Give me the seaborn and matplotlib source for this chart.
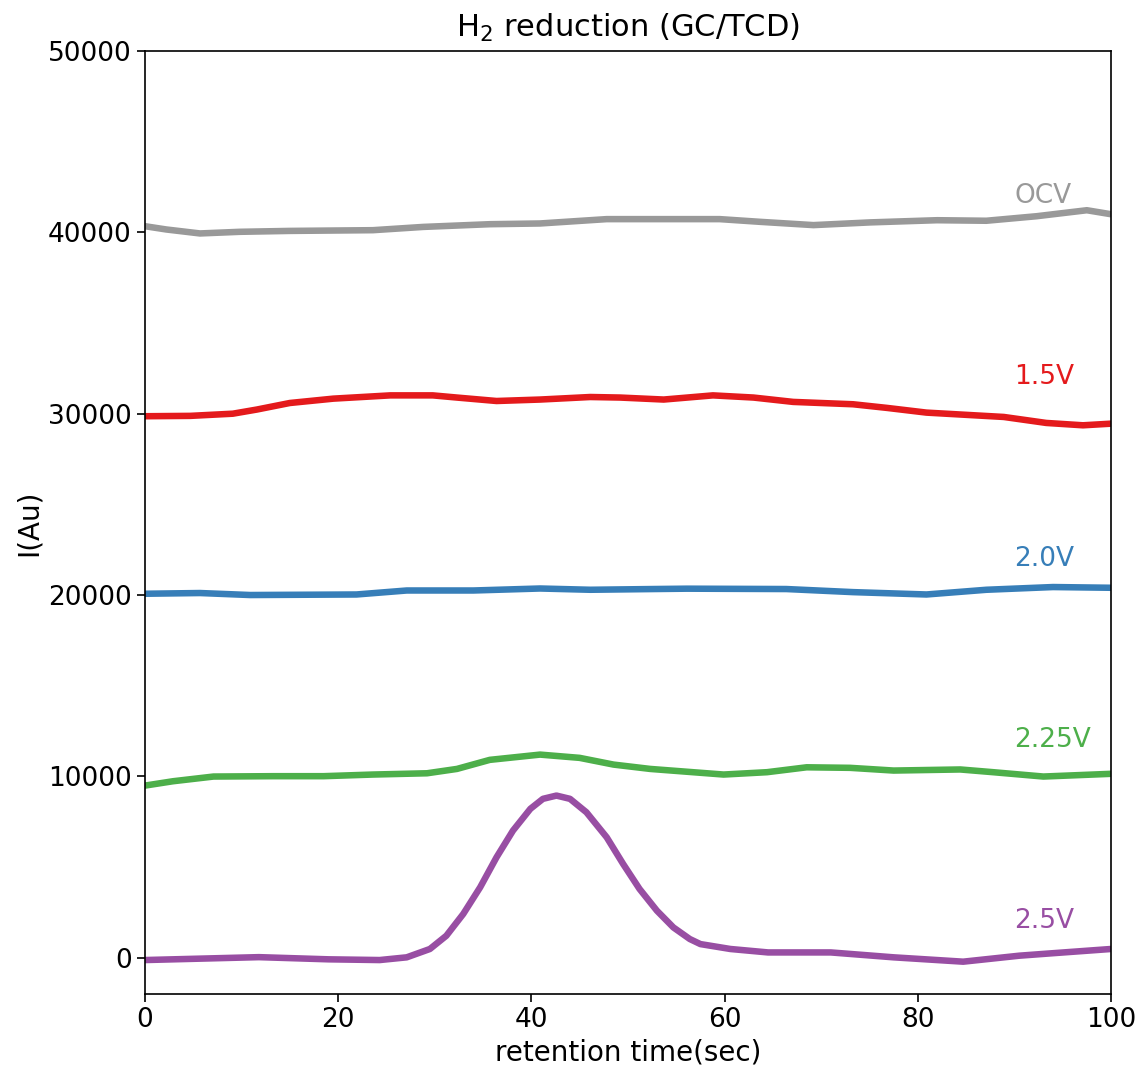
import matplotlib
matplotlib.use("Agg")
import matplotlib.pyplot as plt
import seaborn as sns
import pandas as pd

sns.set_style("ticks")
plt.rcParams['font.family'] = ['DejaVu Sans']
plt.rcParams.update({
    "text.color": "black",
    "axes.labelcolor": "black",
    "xtick.color": "black",
    "ytick.color": "black",
    "axes.edgecolor": "black",
})

# Retention time (sec) and detector signal for each applied condition
t_ocv = [0, 2.2, 5.7, 9.8, 15.0, 23.6, 28.8, 35.7, 40.9, 47.8, 52.6, 59.5, 63.7, 69.2, 75.1,
         82.0, 87.1, 92.3, 97.5, 100]
i_ocv = [40340, 40160, 39940, 40030, 40080, 40120, 40300, 40450, 40490, 40730, 40730, 40730,
         40580, 40400, 40550, 40670, 40640, 40890, 41220, 41000]

t_15 = [0, 4.7, 9.1, 11.6, 15.0, 19.5, 25.4, 29.8, 32.3, 36.4, 40.9, 46.1, 49.2, 53.7, 58.8,
        63.0, 67.1, 73.3, 76.8, 80.9, 88.9, 93.3, 97.1, 100]
i_15 = [29860, 29880, 30000, 30230, 30590, 30830, 31010, 31010, 30890, 30700, 30780, 30920,
        30890, 30780, 31010, 30890, 30650, 30520, 30320, 30060, 29820, 29490, 29360, 29450]

t_20 = [0, 5.7, 10.9, 21.9, 27.1, 34.0, 40.9, 46.1, 52.6, 56.1, 66.4, 73.3, 80.9, 87.1, 94.0, 100]
i_20 = [20070, 20110, 20000, 20030, 20250, 20250, 20360, 20290, 20330, 20350, 20330, 20160,
        20030, 20290, 20440, 20400]

t_225 = [0, 2.9, 7.1, 13.3, 18.5, 23.6, 29.2, 32.3, 35.7, 40.9, 45.0, 48.5, 52.3, 59.9, 64.4,
         68.5, 73.0, 77.5, 84.4, 87.8, 93.0, 100]
i_225 = [9490, 9730, 9990, 10010, 10010, 10100, 10170, 10410, 10910, 11200, 11020, 10650, 10410,
         10100, 10230, 10500, 10470, 10320, 10380, 10230, 9990, 10140]

t_25 = [0, 11.8, 19, 24.3, 27.1, 29.5, 31.2, 32.95, 34.7, 36.4, 38.1, 39.9, 41.2, 42.6, 44.0,
        45.7, 47.8, 49.5, 51.2, 53.0, 54.7, 56.4, 57.5, 60.6, 64.5, 71, 77.5, 84.7, 90.5, 93.8, 100]
i_25 = [-130, 30, -90, -130, 20, 480, 1210, 2410, 3880, 5540, 7010, 8210, 8760, 8940, 8760,
        8020, 6640, 5170, 3790, 2590, 1670, 1030, 750, 480, 290, 290, 20, -220, 110, 240, 480]

labels = ["OCV", "1.5V", "2.0V", "2.25V", "2.5V"]
colors = ["#999999", "#e41a1c", "#377eb8", "#4daf4a", "#984ea3"]
label_y = [42000, 32000, 22000, 12000, 2000]

frames = []
for name, t, i in zip(labels, [t_ocv, t_15, t_20, t_225, t_25], [i_ocv, i_15, i_20, i_225, i_25]):
    frames.append(pd.DataFrame({"time": t, "signal": i, "condition": name}))
df = pd.concat(frames, ignore_index=True)

fig = plt.figure(figsize=(11.41, 10.72), dpi=100)
ax = fig.add_axes([0.127, 0.0728, 0.8467, 0.8796])

sns.lineplot(data=df, x="time", y="signal", hue="condition", hue_order=labels,
             palette=colors, linewidth=4.7, legend=False, ax=ax, sort=True,
             solid_joinstyle="round", solid_capstyle="round")

for name, c, yv in zip(labels, colors, label_y):
    ax.text(90, yv, name, color=c, fontsize=19, ha="left", va="center")

ax.set_xlim(0, 100)
ax.set_ylim(-2000, 50000)
ax.set_yticks([0, 10000, 20000, 30000, 40000, 50000])
ax.set_xticks([0, 20, 40, 60, 80, 100])
ax.tick_params(labelsize=19, length=6, width=1.2, direction="out")
for s in ax.spines.values():
    s.set_visible(True)
    s.set_linewidth(1.2)
ax.set_xlabel("retention time(sec)", fontsize=20)
ax.set_ylabel("I(Au)", fontsize=20)
ax.set_title("H$_2$ reduction (GC/TCD)", fontsize=22, pad=10)

fig.savefig("out.png", dpi=100)
